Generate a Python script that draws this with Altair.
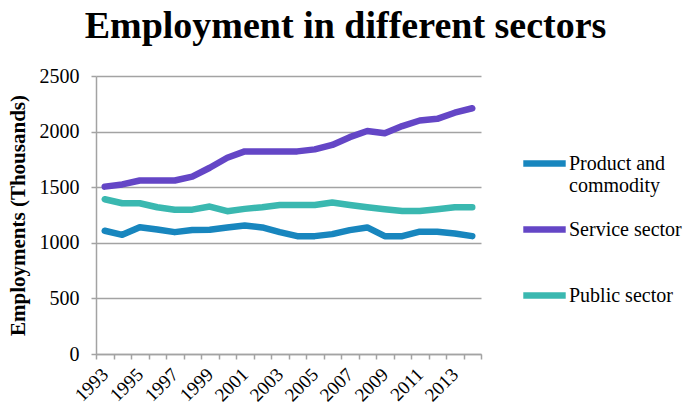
import altair as alt
import pandas as pd

years = [str(y) for y in range(1993, 2015)]
product = [1108, 1072, 1140, 1120, 1096, 1115, 1118, 1138, 1156, 1138, 1096, 1060, 1060, 1078, 1114, 1138, 1060, 1060, 1100, 1100, 1084, 1060]
service = [1505, 1525, 1560, 1560, 1560, 1595, 1675, 1765, 1822, 1822, 1822, 1822, 1840, 1880, 1950, 2005, 1985, 2050, 2100, 2115, 2170, 2210]
public = [1392, 1356, 1356, 1320, 1298, 1298, 1326, 1284, 1305, 1320, 1340, 1340, 1340, 1362, 1340, 1320, 1302, 1286, 1286, 1302, 1320, 1320]

series_names = ["Product and commodity", "Service sector", "Public sector"]
series_colors = ["#1886be", "#6446c6", "#3ab8b0"]

rows = []
for name, vals in zip(series_names, [product, service, public]):
    for y, v in zip(years, vals):
        rows.append({"Year": y, "Sector": name, "Value": v})
df = pd.DataFrame(rows)

FONT = "Liberation Serif"
GRID = "#a3a3a3"

chart = alt.Chart(df).mark_line(strokeWidth=6.5, strokeCap="round", strokeJoin="round").encode(
    x=alt.X("Year:O", scale=alt.Scale(type="band", paddingInner=0, paddingOuter=0),
            axis=alt.Axis(title=None, labelAngle=-45, labelAlign="right", labelBaseline="middle",
                          labelFont=FONT, labelFontSize=19, labelColor="black",
                          labelPadding=12, tickBand="extent", tickSize=5,
                          labelExpr="(toNumber(datum.value) - 1993) % 2 == 0 ? datum.value : ''",
                          domainColor=GRID, tickColor=GRID, domainWidth=1.5, tickWidth=1.5,
                          labelOverlap=False, grid=False)),
    y=alt.Y("Value:Q", scale=alt.Scale(domain=[0, 2500]),
            axis=alt.Axis(title="Employments (Thousands)", values=[0, 500, 1000, 1500, 2000, 2500],
                          format="d",
                          labelFont=FONT, labelFontSize=20, labelColor="black",
                          labelPadding=12, tickSize=5,
                          titleFont=FONT, titleFontSize=21, titleFontWeight="bold", titleColor="black",
                          titlePadding=11,
                          domainColor=GRID, tickColor=GRID, domainWidth=1.5, tickWidth=1.5,
                          gridColor=GRID, gridWidth=1.5)),
    color=alt.Color("Sector:N", scale=alt.Scale(domain=series_names, range=series_colors),
                    sort=series_names,
                    legend=alt.Legend(title=None, orient="none", legendX=424, legendY=63,
                                      symbolType="stroke", symbolStrokeWidth=6.5, symbolSize=1800,
                                      labelFont=FONT, labelFontSize=20, labelColor="black",
                                      labelOffset=0, rowPadding=9, labelLimit=300,
                                      labelExpr="datum.label == 'Product and commodity' ? ['Product and', 'commodity'] : [datum.label, ' ']")),
).properties(
    width=385, height=278,
    title=alt.TitleParams("Employment in different sectors", fontSize=38, fontWeight="bold",
                          font=FONT, anchor="middle", frame="group", dx=57, offset=20,
                          color="black"),
    autosize=alt.AutoSizeParams(type="none"),
    padding={"left": 88, "top": 68, "right": 202, "bottom": 48},
).configure_view(stroke=None)

chart.save("out.html", embed_options={"renderer": "svg", "actions": False})
